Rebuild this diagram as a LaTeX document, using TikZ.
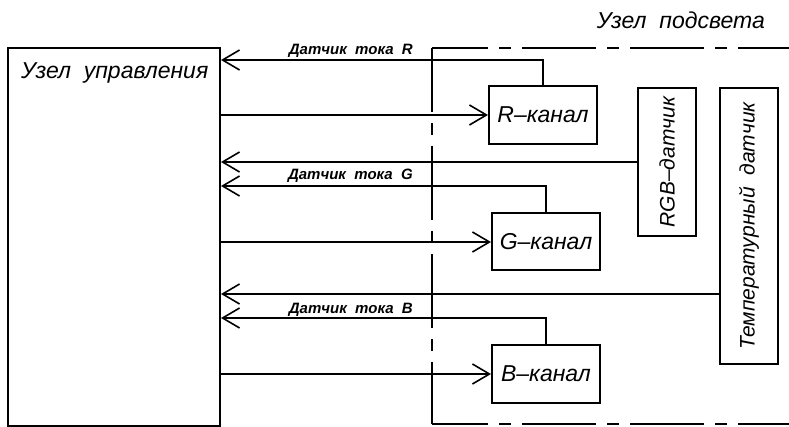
\documentclass[tikz,border=0pt]{standalone}
\usepackage{fontspec}
\setmainfont{Liberation Sans}
\newfontfamily\gost{Liberation Sans}
\usetikzlibrary{arrows.meta}
\begin{document}
\begin{tikzpicture}[x=1pt,y=-1pt,
  every node/.style={font=\gost\itshape},
  blk/.style={draw,line width=2pt,rectangle,inner sep=0pt,font=\gost\itshape\fontsize{23}{23}\selectfont},
  vblk/.style={blk,font=\gost\itshape\fontsize{21}{21}\selectfont},
  wire/.style={line width=2pt},
  arr/.style={wire,-{Straight Barb[length=17pt,width=20pt,line width=1.6pt]}},
  bnd/.style={line width=2pt,dash pattern=on 74pt off 11pt on 12pt off 11pt},
  lbl/.style={font=\gost\itshape\bfseries\fontsize{15}{15}\selectfont,anchor=base east,inner sep=0pt},
  big/.style={font=\gost\itshape\fontsize{23}{23}\selectfont,inner sep=0pt}]
\useasboundingbox (0,0) rectangle (789,427);
% control unit
\node[blk,minimum width=212pt,minimum height=378pt] (ctrl) at (114,237) {};
\node[big,anchor=base west] (ctrltxt) at (21,79) {Узел\ \ управления};
% channels
\node[blk,minimum width=108pt,minimum height=58pt] (R) at (543,115) {R–канал};
\node[blk,minimum width=108pt,minimum height=57pt] (G) at (546,242) {G–канал};
\node[blk,minimum width=108pt,minimum height=58pt] (B) at (546,374) {B–канал};
% sensors
\node[vblk,minimum width=58pt,minimum height=148pt] (rgb) at (667,162) {\rotatebox{90}{RGB–датчик}};
\node[vblk,minimum width=58pt,minimum height=276pt] (temp) at (749,226) {\rotatebox{90}{Температурный\ \ датчик}};
% boundary of the lighting unit
\coordinate (c1) at (432,48);
\coordinate (c2) at (432,424);
\coordinate (e1) at (789,48);
\coordinate (e2) at (789,424);
\draw[bnd,dash phase=18pt] (c1) -- (e1);
\draw[bnd,dash phase=10pt] (c1) -- (c2);
\draw[bnd,dash phase=18pt] (c2) -- (e2);
\node[big,anchor=base east] (lit) at (765,29) {Узел\ \ подсвета};
% current sensor lines
\coordinate (rs) at (543,60);
\coordinate (gs) at (546,186);
\coordinate (bs) at (546,318);
\draw[arr] (R.north) -- (rs) -- (ctrl.east |- rs);
\draw[arr] (G.north) -- (gs) -- (ctrl.east |- gs);
\draw[arr] (B.north) -- (bs) -- (ctrl.east |- bs);
\node[lbl] (lr) at (413,55) {Датчик\ \ тока\ \ R};
\node[lbl] (lg) at (413,180) {Датчик\ \ тока\ \ G};
\node[lbl] (lb) at (413,313) {Датчик\ \ тока\ \ B};
% control lines to channels
\draw[arr] (ctrl.east |- R.west) -- (R.west);
\draw[arr] (ctrl.east |- G.west) -- (G.west);
\draw[arr] (ctrl.east |- B.west) -- (B.west);
% sensor outputs
\coordinate (tl) at (720,294);
\draw[arr] (rgb.west) -- (ctrl.east |- rgb.west);
\draw[arr] (temp.west |- tl) -- (ctrl.east |- tl);
\end{tikzpicture}
\end{document}
